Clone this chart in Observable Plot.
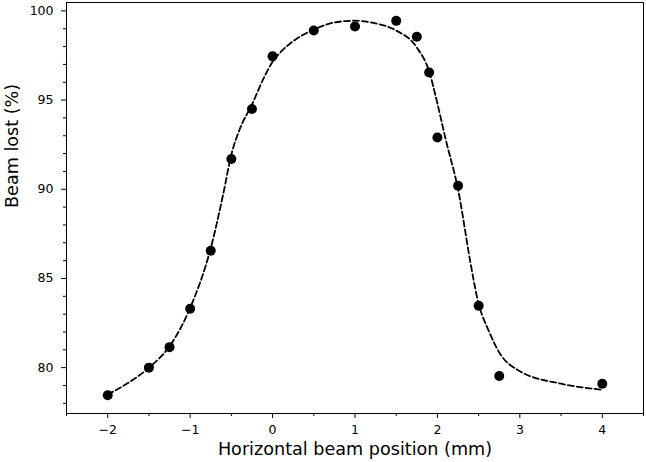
<!DOCTYPE html>
<html>
<head>
<meta charset="utf-8">
<script src="https://cdn.jsdelivr.net/npm/d3@7"></script>
<script src="https://cdn.jsdelivr.net/npm/@observablehq/plot@0.6"></script>
<style>
  html, body { margin: 0; padding: 0; background: #fff; }
  svg { display: block; }
</style>
</head>
<body>
<div id="chart"></div>
<script>
// Measured points
const pointX = [-2, -1.5, -1.25, -1, -0.75, -0.5, -0.25, 0, 0.5, 1, 1.5, 1.75, 1.9, 2, 2.25, 2.5, 2.75, 4];
const pointY = [78.45, 80.0, 81.15, 83.3, 86.55, 91.7, 94.5, 97.45, 98.9, 99.12, 99.44, 98.55, 96.55, 92.9, 90.2, 83.47, 79.53, 79.1];

// Fitted curve
const curveX = [-2, -1.75, -1.5, -1.25, -1, -0.75, -0.6, -0.5, -0.4, -0.25, -0.1, 0, 0.1, 0.25, 0.5, 0.75, 1, 1.25, 1.5, 1.75, 1.9, 2, 2.1, 2.25, 2.4, 2.45, 2.5, 2.55, 2.6, 2.75, 3, 3.5, 4];
const curveY = [78.5, 79.15, 80.0, 81.2, 83.35, 86.7, 89.7, 91.95, 93.35, 94.75, 96.3, 97.15, 97.7, 98.3, 98.95, 99.35, 99.45, 99.3, 98.9, 97.95, 96.6, 94.8, 92.8, 90.0, 85.9, 84.65, 83.55, 82.85, 82.3, 80.85, 79.8, 79.1, 78.76];

// Ticks and labels
const xMajorTicks = [-2, -1, 0, 1, 2, 3, 4];
const xMinorTicks = [-2.5, -1.5, -0.5, 0.5, 1.5, 2.5, 3.5, 4.5];
const yMajorTicks = [80, 85, 90, 95, 100];
const yMinorTicks = [78, 79, 81, 82, 83, 84, 86, 87, 88, 89, 91, 92, 93, 94, 96, 97, 98, 99];
const xLabel = "Horizontal beam position (mm)";
const yLabel = "Beam lost (%)";

const points = pointX.map((x, i) => ({x, y: pointY[i]}));
const curve = curveX.map((x, i) => ({x, y: curveY[i]}));
const fmt = d => (d < 0 ? "\u2212" + Math.abs(d) : String(d));

const chart = Plot.plot({
  width: 646,
  height: 462,
  marginLeft: 66,
  marginRight: 3,
  marginTop: 2,
  marginBottom: 49,
  style: {fontFamily: "DejaVu Sans", fontSize: "12.5px", color: "#000", background: "#fff"},
  x: {domain: [-2.5, 4.5]},
  y: {domain: [77.43, 100.47]},
  marks: [
    Plot.frame({stroke: "#000", strokeWidth: 1}),
    Plot.axisX({ticks: xMinorTicks, tickSize: 3, tickFormat: () => "", label: null}),
    Plot.axisX({ticks: xMajorTicks, tickSize: 5, tickPadding: 7, tickFormat: fmt, label: null}),
    Plot.axisY({ticks: yMinorTicks, tickSize: 3, tickFormat: () => "", label: null}),
    Plot.axisY({ticks: yMajorTicks, tickSize: 5, tickPadding: 8, tickFormat: fmt, label: null}),
    Plot.line(curve, {x: "x", y: "y", stroke: "#000", strokeWidth: 1.8, strokeDasharray: "6,3", curve: "monotone-x"}),
    Plot.dot(points, {x: "x", y: "y", r: 5, fill: "#000", stroke: "none"}),
    Plot.text([xLabel], {text: d => d, frameAnchor: "bottom", dy: 29, lineAnchor: "top", fontSize: 17.6}),
    Plot.text([yLabel], {text: d => d, frameAnchor: "left", dx: -54, rotate: -90, fontSize: 17.6})
  ]
});
document.getElementById("chart").appendChild(chart);
</script>
</body>
</html>
